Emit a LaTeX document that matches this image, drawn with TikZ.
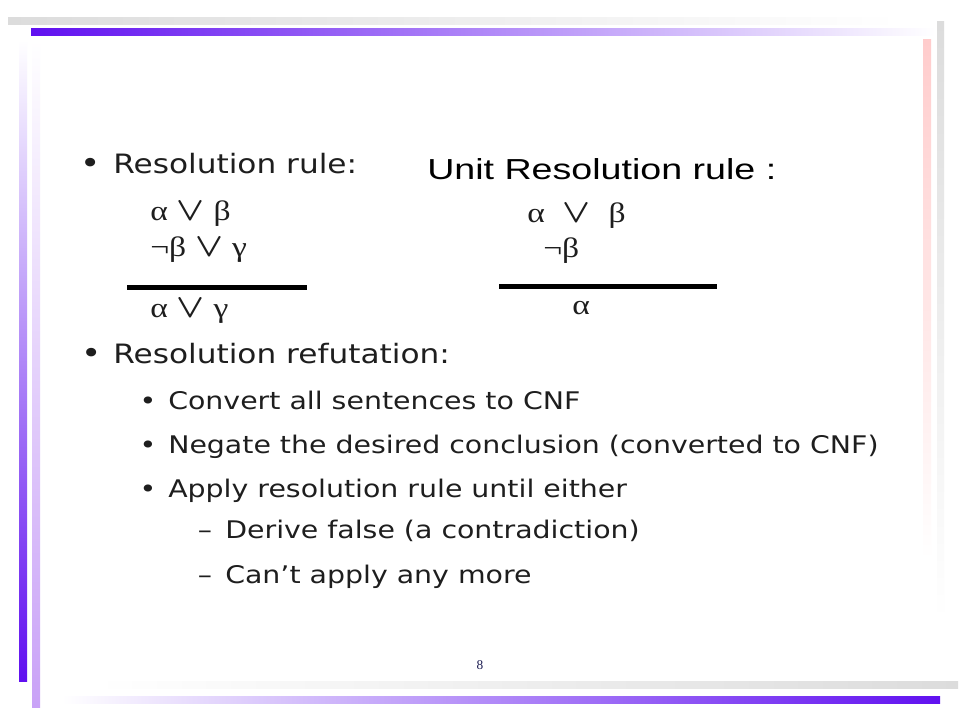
\documentclass[tikz,border=0pt]{standalone}
\usepackage{fontspec}
\usepackage{amsmath,bm}
\usepackage{tikz}
\newfontfamily\slidefont{DejaVu Sans}[FakeStretch=1.17]
\newfontfamily\unitfont{Liberation Sans}[FakeStretch=1.3]
\newfontfamily\gkfont{Liberation Serif}[FakeStretch=1.2]
\newfontfamily\numfont{Liberation Serif}
\def\gk{\gkfont\fontsize{21}{24}\selectfont}
\def\lor{\scalebox{1.1}[1]{\fontsize{24}{26}\selectfont$\boldsymbol{\vee}$}}
\definecolor{barpurple}{HTML}{6010F0}
\definecolor{barlilac}{HTML}{C9A2F7}
\definecolor{bargray}{HTML}{DCDCDC}
\definecolor{barpink}{HTML}{FFCCCC}
\definecolor{textgray}{HTML}{1E1E1E}
\definecolor{pagenum}{HTML}{1A1A50}
\tikzset{
  lvlone/.style={anchor=base west, inner sep=0pt, text=textgray, font=\slidefont\fontsize{20}{24}\selectfont},
  lvltwo/.style={anchor=base west, inner sep=0pt, text=textgray, font=\slidefont\fontsize{18.2}{22}\selectfont},
  bulone/.style={anchor=base, inner sep=0pt, text=textgray, font=\slidefont\fontsize{22}{24}\selectfont},
  bultwo/.style={anchor=base, inner sep=0pt, text=textgray, font=\slidefont\fontsize{18.2}{22}\selectfont},
  formula/.style={anchor=base west, inner sep=0pt, text=textgray, font=\slidefont\fontsize{18}{22}\selectfont},
  fracrule/.style={line width=3.75pt, black}
}
\begin{document}
\begin{tikzpicture}[x=0.75pt, y=-0.75pt]
			%%%%% START %%%%%
			\useasboundingbox (0, 0) rectangle (960, 720);
			\fill[white] (0, 0) rectangle (960, 720);
			
			% frame bars
			\shade[left color=bargray, right color=white] (8, 18) rectangle (900, 25);
			\shade[left color=barpurple, right color=white] (31, 29) rectangle (935, 36);
			\shade[top color=white, bottom color=barpurple] (19, 40) rectangle (27, 681);
			\shade[top color=white, bottom color=barlilac] (32, 40) rectangle (40, 707);
			\shade[top color=barpink, bottom color=white] (923, 40) rectangle (931, 560);
			\shade[top color=bargray, bottom color=white] (937, 22) rectangle (944, 620);
			\shade[left color=white, right color=bargray] (95, 681) rectangle (958, 688);
			\shade[left color=white, right color=barpurple] (62, 696) rectangle (940, 703);
			
			% rules
			\node[bulone] (b1) at (91, 174) {•};
			\node[lvlone] (resrule) at (113, 174) {Resolution rule:};
			\node[anchor=base west, inner sep=0pt, font=\unitfont\fontsize{21.7}{26}\selectfont] (unitrule) at (427, 180) {Unit Resolution rule :};
			
			\node[formula] (la) at (150, 221) {{\gk α} \lor{} {\gk β}};
			\node[formula] (lb) at (150, 257) {{\gk ¬β} \lor{} {\gk γ}};
			\draw[fracrule] (127, 288) -- (307, 288);
			\node[formula] (lc) at (150, 317) {{\gk α} \lor{} {\gk γ}};
			
			\node[formula] (ra) at (527, 223) {{\gk α}\ \ \lor\ \ {\gk β}};
			\node[formula] (rb) at (543, 258) {{\gk ¬β}};
			\draw[fracrule] (499, 286.5) -- (717, 286.5);
			\node[formula] (rc) at (572, 315) {{\gk α}};
			
			% refutation
			\node[bulone] (b2) at (92, 363) {•};
			\node[lvlone] (refut) at (113, 363) {Resolution refutation:};
			\node[bultwo] (b3) at (148, 409) {•};
			\node[lvltwo] (conv) at (168, 409) {Convert all sentences to CNF};
			\node[bultwo] (b4) at (148, 453) {•};
			\node[lvltwo] (neg) at (168, 453) {Negate the desired conclusion (converted to CNF)};
			\node[bultwo] (b5) at (148, 497) {•};
			\node[lvltwo] (apply) at (168, 497) {Apply resolution rule until either};
			\node[bultwo] (d1) at (205, 538) {–};
			\node[lvltwo] (derive) at (225, 538) {Derive false (a contradiction)};
			\node[bultwo] (d2) at (205, 583) {–};
			\node[lvltwo] (cant) at (225, 583) {Can’t apply any more};
			
			\node[inner sep=0pt, text=pagenum, font=\numfont\fontsize{10}{12}\selectfont] (pg) at (480, 665) {8};
			
			%%%%% END %%%%%
		\end{tikzpicture}
\end{document}
